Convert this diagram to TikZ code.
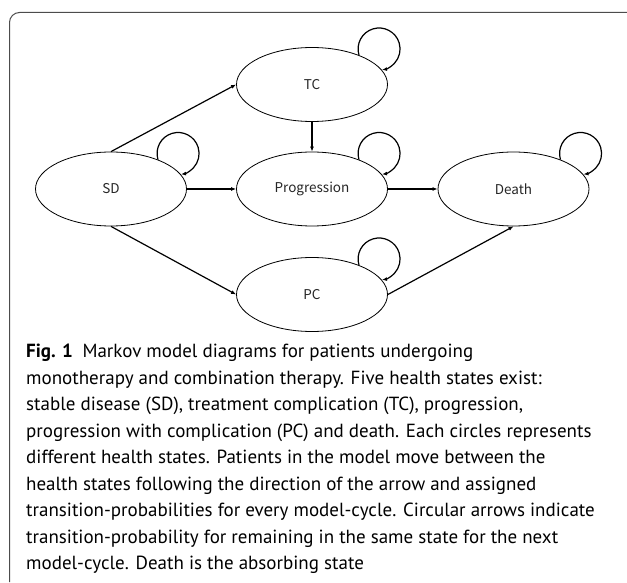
\documentclass[tikz,border=0pt]{standalone}
\usepackage{fontspec}
\setsansfont{PT Sans}
\newfontfamily\statefont{Noto Sans CJK JP}
\usetikzlibrary{shapes.geometric,arrows.meta}

\begin{document}
\begin{tikzpicture}[x=1pt,y=1pt,
  state/.style={draw, ellipse, line width=0.8pt, minimum width=151pt, minimum height=74pt,
    inner sep=0pt, font=\statefont\fontsize{13.5}{16}\selectfont, text=black!85},
  arr/.style={-{Latex[length=5pt,width=4pt]}, line width=1.2pt}]
\useasboundingbox (0,0) rectangle (627,582);
% frame
\draw[black!70, line width=1pt] (9.5,0) -- (9.5,559.5) arc[start angle=180, end angle=90, radius=10] -- (627,569.5);
% states
\node[state] (tc) at (312,497.5) {TC};
\node[state] (sd) at (111,393) {SD};
\node[state] (prog) at (312,393) {Progression};
\node[state] (death) at (513.5,393) {Death};
\node[state] (pc) at (312,287.5) {PC};
% transitions
\draw[arr] (sd.north) to (tc.west);
\draw[arr] (sd.east) to (prog.west);
\draw[arr] (tc.south) to (prog.north);
\draw[arr] (prog.east) to (death.west);
\draw[arr] (sd.south) to (pc.west);
\draw[arr] (pc.east) to (death.south);
% staying in the same state
\foreach \s in {tc,sd,prog,death,pc}
  \draw[arr] (\s.32) arc[start angle=197, end angle=-82, radius=21];
% caption
\node[anchor=north west, inner sep=0pt, align=left,
  font=\sffamily\fontsize{19}{26.5}\selectfont] (caption) at (26,238)
{\textbf{Fig. 1}\enspace Markov model diagrams for patients undergoing\\
monotherapy and combination therapy. Five health states exist:\\
stable disease (SD), treatment complication (TC), progression,\\
progression with complication (PC) and death. Each circles represents\\
different health states. Patients in the model move between the\\
health states following the direction of the arrow and assigned\\
transition-probabilities for every model-cycle. Circular arrows indicate\\
transition-probability for remaining in the same state for the next\\
model-cycle. Death is the absorbing state};
\end{tikzpicture}
\end{document}
